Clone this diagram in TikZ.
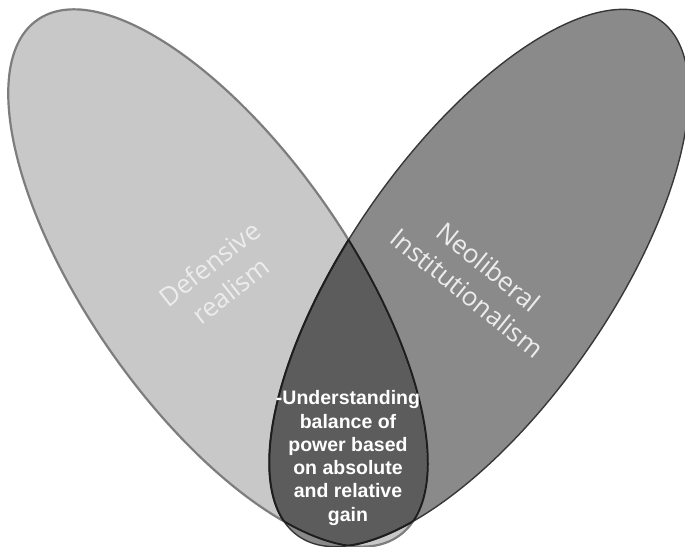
\documentclass[tikz,border=0pt]{standalone}
\usepackage{fontspec}
\newfontfamily\labfont{Open Sans}
\newfontfamily\boldlab{Liberation Sans}
\definecolor{leftfill}{RGB}{200,200,200}
\definecolor{leftline}{RGB}{125,125,125}
\definecolor{rightfill}{RGB}{138,138,138}
\definecolor{rightline}{RGB}{55,55,55}
\definecolor{lensfill}{RGB}{92,92,92}
\definecolor{lensline}{RGB}{30,30,30}
\definecolor{labcol}{RGB}{236,236,236}
\tikzset{
  setlabel/.style={text=labcol, align=center, font=\labfont\fontsize{26}{34}\selectfont, inner sep=0pt},
  lenslabel/.style={text=white, align=center, font=\boldlab\bfseries\fontsize{19.5}{23.3}\selectfont, inner sep=0pt},
  leftell/.style={x radius=130pt, y radius=315pt, rotate=35},
  rightell/.style={x radius=130pt, y radius=315pt, rotate=-35}
}
\begin{document}
\begin{tikzpicture}[x=1pt,y=1pt]
\useasboundingbox (0,0) rectangle (685,546);
\coordinate (cL) at (218,268);
\coordinate (cR) at (479,268);
% fills
\fill[leftfill] (cL) ellipse [leftell];
\fill[rightfill] (cR) ellipse [rightell];
\begin{scope}
  \clip (cL) ellipse [leftell];
  \fill[lensfill] (cR) ellipse [rightell];
\end{scope}
% outlines
\draw[leftline, line width=2.2pt] (cL) ellipse [leftell];
\draw[rightline, line width=1.4pt] (cR) ellipse [rightell];
\begin{scope}
  \clip (cR) ellipse [rightell];
  \draw[lensline, line width=2pt] (cL) ellipse [leftell];
\end{scope}
\begin{scope}
  \clip (cL) ellipse [leftell];
  \draw[lensline, line width=2pt] (cR) ellipse [rightell];
\end{scope}
% labels
\node[setlabel, rotate=38] (defr) at (220,269) {Defensive\\realism};
\node[setlabel, rotate=-39] (neol) at (478,266) {Neoliberal\\Institutionalism};
\node[lenslabel] (lens) at (348,88) {-Understanding\\balance of\\power based\\on absolute\\and relative\\gain};
\end{tikzpicture}
\end{document}
